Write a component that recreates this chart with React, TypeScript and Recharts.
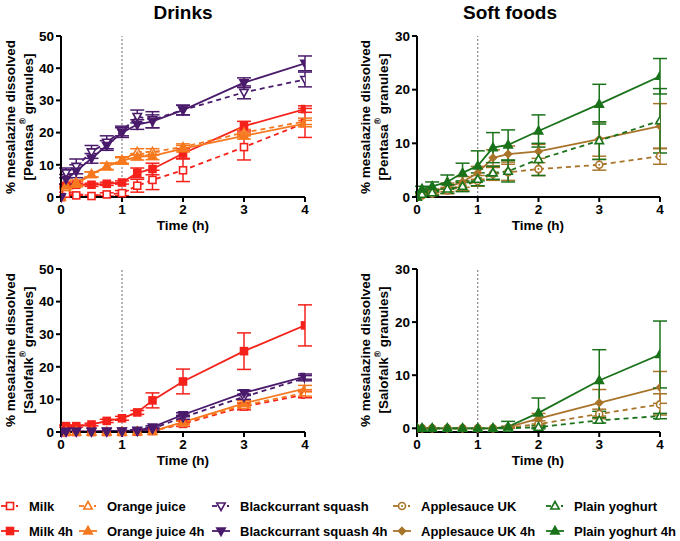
import React from 'react';
import { LineChart, Line, XAxis, YAxis, ErrorBar, ReferenceLine } from 'recharts';

// sampling times (h)
const times = [0, 0.083, 0.25, 0.5, 0.75, 1, 1.25, 1.5, 2, 3, 4];

// Pentasa - drinks
const milkP = [0, 1, 0.5, 0.3, 0.8, 1.2, 3.5, 5.3, 8.3, 15.5, 23];
const milkPErr = [0, 0.5, 0.3, 0.3, 0.5, 0.8, 2, 3, 3.5, 4, 4.5];
const milk4hP = [0, 3.5, 3.8, 3.8, 4.1, 4.5, 7.5, 8.7, 13.5, 22, 27.3];
const milk4hPErr = [0, 0.5, 0.5, 0.5, 0.5, 0.5, 1.5, 1.8, 1.5, 1.5, 1];
const ojP = [0, 3, 4.5, 7, 9.5, 11.5, 14, 14, 15.5, 20, 23.5];
const ojPErr = [0, 0.5, 0.8, 0.8, 1, 1, 1, 1, 1, 1, 1];
const oj4hP = [0, 3.5, 4, 7, 9.5, 11.2, 12.5, 12.8, 15, 19, 22.8];
const oj4hPErr = [0, 0.5, 0.8, 0.8, 1, 1, 1, 1.2, 1, 1, 1];
const bcP = [0, 7.5, 9.5, 14, 17, 20.5, 25, 24, 27, 32.5, 36.5];
const bcPErr = [0, 1.5, 2.3, 2, 2, 1.5, 2, 2.5, 1.5, 2, 2.3];
const bc4hP = [0, 5.5, 8, 12, 16, 20, 22.5, 23.5, 27, 35.5, 41.5];
const bc4hPErr = [0, 1.5, 2, 1.5, 1.5, 1.5, 1.5, 2, 1.5, 1.5, 2.3];

// Pentasa - soft foods
const appleP = [0, 0.3, 0.6, 1.2, 2, 3, 4.3, 4.6, 5.2, 6, 7.6];
const applePErr = [0, 0.3, 0.4, 0.6, 0.8, 1, 1.2, 1.5, 1.2, 1, 1.5];
const apple4hP = [0, 0.5, 1, 1.8, 2.8, 4.5, 7.3, 8, 8.5, 10.8, 13.2];
const apple4hPErr = [0, 0.3, 0.5, 0.8, 1, 1.2, 1.5, 1.5, 1.3, 3.2, 4.2];
const yogP = [0, 0.5, 0.8, 1.5, 2, 3.3, 4.5, 4.8, 7, 10.5, 14.2];
const yogPErr = [0, 0.3, 0.5, 0.8, 1, 1.2, 1.2, 2, 3, 3.5, 6];
const yog4hP = [0, 1.5, 2, 2.8, 4.5, 5.8, 9.2, 9.7, 12.3, 17.3, 22.5];
const yog4hPErr = [0, 0.5, 0.8, 1.3, 1.8, 2.8, 2.8, 2.8, 3, 3.7, 3.3];

// Salofalk - drinks
const milkS = [0, 0, 0, 0, 0, 0, 0.1, 0.3, 2.5, 7.8, 11.5];
const milkSErr = [0, 0, 0, 0, 0, 0, 0.1, 0.3, 0.8, 1, 1];
const milk4hS = [0, 1.8, 1.8, 2.3, 3.4, 4.2, 6, 9.7, 15.5, 24.8, 32.7];
const milk4hSErr = [0, 0.3, 0.3, 0.4, 0.5, 0.6, 0.6, 2.3, 3.8, 5.6, 6.3];
const ojS = [0, 0, 0, 0, 0, 0, 0.1, 0.2, 2.8, 8.2, 12];
const ojSErr = [0, 0, 0, 0, 0, 0, 0.1, 0.2, 0.5, 0.8, 1];
const oj4hS = [0, 0, 0, 0, 0, 0, 0.2, 0.3, 3, 8.8, 13.3];
const oj4hSErr = [0, 0, 0, 0, 0, 0, 0.1, 0.2, 0.5, 0.8, 1];
const bcS = [0, 0.1, 0.1, 0.1, 0.1, 0.2, 0.3, 1, 4.5, 10.8, 16.5];
const bcSErr = [0, 0, 0, 0, 0, 0.1, 0.2, 0.4, 0.6, 0.8, 0.8];
const bc4hS = [0, 0.2, 0.2, 0.2, 0.3, 0.3, 0.5, 1.5, 5.3, 12, 17];
const bc4hSErr = [0, 0, 0, 0, 0, 0.1, 0.2, 0.4, 0.6, 0.8, 0.8];

// Salofalk - soft foods
const appleS = [0, 0, 0, 0, 0, 0, 0, 0.1, 0.8, 2.7, 4.5];
const appleSErr = [0, 0, 0, 0, 0, 0, 0, 0.1, 0.6, 0.9, 2];
const apple4hS = [0, 0, 0, 0, 0, 0, 0, 0.2, 1.8, 4.8, 7.7];
const apple4hSErr = [0, 0, 0, 0, 0, 0, 0, 0.2, 1, 2.5, 3];
const yogS = [0, 0, 0, 0, 0, 0, 0, 0, 0.2, 1.5, 2.3];
const yogSErr = [0, 0, 0, 0, 0, 0, 0, 0, 0.3, 0.5, 0.5];
const yog4hS = [0, 0, 0, 0, 0, 0, 0, 0.3, 2.9, 9, 13.9];
const yog4hSErr = [0, 0, 0, 0, 0, 0, 0, 1, 2.8, 5.8, 6.3];

const RED = '#f5221b';
const ORANGE = '#f7791f';
const PURPLE = '#4a1a6b';
const BROWN = '#a8742a';
const GREEN = '#1a721a';
const FONT = '"Liberation Sans", Arial, sans-serif';

type Shape = 'square' | 'up' | 'down' | 'circle';
interface Series { key: string; name: string; color: string; dashed: boolean; shape: Shape; filled: boolean; }

const drinkSeries: Series[] = [
  { key: 'milk', name: 'Milk', color: RED, dashed: true, shape: 'square', filled: false },
  { key: 'milk4h', name: 'Milk 4h', color: RED, dashed: false, shape: 'square', filled: true },
  { key: 'oj', name: 'Orange juice', color: ORANGE, dashed: true, shape: 'up', filled: false },
  { key: 'oj4h', name: 'Orange juice 4h', color: ORANGE, dashed: false, shape: 'up', filled: true },
  { key: 'bc', name: 'Blackcurrant squash', color: PURPLE, dashed: true, shape: 'down', filled: false },
  { key: 'bc4h', name: 'Blackcurrant squash 4h', color: PURPLE, dashed: false, shape: 'down', filled: true },
];
const softSeries: Series[] = [
  { key: 'apple', name: 'Applesauce UK', color: BROWN, dashed: true, shape: 'circle', filled: false },
  { key: 'apple4h', name: 'Applesauce UK 4h', color: BROWN, dashed: false, shape: 'circle', filled: true },
  { key: 'yog', name: 'Plain yoghurt', color: GREEN, dashed: true, shape: 'up', filled: false },
  { key: 'yog4h', name: 'Plain yoghurt 4h', color: GREEN, dashed: false, shape: 'up', filled: true },
];

const buildRows = (cols: Record<string, number[]>) =>
  times.map((t, i) => {
    const row: Record<string, number> = { t };
    Object.keys(cols).forEach((k) => { row[k] = cols[k][i]; });
    return row;
  });

const pentasaDrinks = buildRows({
  milk: milkP, milkErr: milkPErr, milk4h: milk4hP, milk4hErr: milk4hPErr,
  oj: ojP, ojErr: ojPErr, oj4h: oj4hP, oj4hErr: oj4hPErr,
  bc: bcP, bcErr: bcPErr, bc4h: bc4hP, bc4hErr: bc4hPErr,
});
const pentasaSoft = buildRows({
  apple: appleP, appleErr: applePErr, apple4h: apple4hP, apple4hErr: apple4hPErr,
  yog: yogP, yogErr: yogPErr, yog4h: yog4hP, yog4hErr: yog4hPErr,
});
const salofalkDrinks = buildRows({
  milk: milkS, milkErr: milkSErr, milk4h: milk4hS, milk4hErr: milk4hSErr,
  oj: ojS, ojErr: ojSErr, oj4h: oj4hS, oj4hErr: oj4hSErr,
  bc: bcS, bcErr: bcSErr, bc4h: bc4hS, bc4hErr: bc4hSErr,
});
const salofalkSoft = buildRows({
  apple: appleS, appleErr: appleSErr, apple4h: apple4hS, apple4hErr: apple4hSErr,
  yog: yogS, yogErr: yogSErr, yog4h: yog4hS, yog4hErr: yog4hSErr,
});

const Marker = ({ cx, cy, s }: { cx: number; cy: number; s: Series }) => {
  const fill = s.filled ? s.color : '#fff';
  const sw = 1.6;
  if (s.shape === 'square') {
    return <rect x={cx - 3.5} y={cy - 3.5} width={7} height={7} fill={fill} stroke={s.color} strokeWidth={sw} />;
  }
  if (s.shape === 'up') {
    return <polygon points={`${cx},${cy - 4.5} ${cx + 4.2},${cy + 3} ${cx - 4.2},${cy + 3}`} fill={fill} stroke={s.color} strokeWidth={sw} />;
  }
  if (s.shape === 'down') {
    return <polygon points={`${cx},${cy + 4.5} ${cx + 4.2},${cy - 3} ${cx - 4.2},${cy - 3}`} fill={fill} stroke={s.color} strokeWidth={sw} />;
  }
  if (s.filled) {
    return <polygon points={`${cx},${cy - 3.5} ${cx + 3.5},${cy} ${cx},${cy + 3.5} ${cx - 3.5},${cy}`} fill={fill} stroke={s.color} strokeWidth={sw} />;
  }
  return (
    <g>
      <circle cx={cx} cy={cy} r={3.5} fill="#fff" stroke={s.color} strokeWidth={sw} />
      <circle cx={cx} cy={cy} r={1} fill={s.color} />
    </g>
  );
};

interface PanelProps {
  rows: Record<string, number>[];
  series: Series[];
  yMax: number;
  yTicks: number[];
  left: number;
  top: number;
  margin: { top: number; right: number; bottom: number; left: number };
}

const tickStyle = { fontSize: 13.5, fontWeight: 'bold' as const, fill: '#000', fontFamily: FONT };

const Panel = ({ rows, series, yMax, yTicks, left, top, margin }: PanelProps) => (
  <div style={{ position: 'absolute', left, top }}>
    <LineChart width={340} height={240} data={rows} margin={margin}>
      <XAxis
        dataKey="t"
        type="number"
        domain={[0, 4]}
        ticks={[0, 1, 2, 3, 4]}
        height={25}
        tick={tickStyle}
        axisLine={{ stroke: '#000', strokeWidth: 2 }}
        tickLine={{ stroke: '#000', strokeWidth: 2 }}
        tickSize={5}
        allowDataOverflow
      />
      <YAxis
        type="number"
        domain={[0, yMax]}
        ticks={yTicks}
        width={25}
        tick={tickStyle}
        axisLine={{ stroke: '#000', strokeWidth: 2 }}
        tickLine={{ stroke: '#000', strokeWidth: 2 }}
        tickSize={5}
        interval={0}
      />
      <ReferenceLine x={1} stroke="#444" strokeWidth={0.8} strokeDasharray="2 2" />
      {series.map((s) => (
        <Line
          key={s.key}
          dataKey={s.key}
          name={s.name}
          stroke={s.color}
          strokeWidth={1.8}
          strokeDasharray={s.dashed ? '5 4' : undefined}
          isAnimationActive={false}
          activeDot={false}
          dot={(p: any) => <Marker key={`${s.key}-${p.index}`} cx={p.cx} cy={p.cy} s={s} />}
        >
          <ErrorBar dataKey={`${s.key}Err`} width={7} strokeWidth={1.5} stroke={s.color} direction="y" isAnimationActive={false} />
        </Line>
      ))}
    </LineChart>
  </div>
);

const YLabel = ({ x, y, brand }: { x: number; y: number; brand: string }) => (
  <g>
    <text transform={`translate(${x},${y}) rotate(-90)`} textAnchor="middle" dominantBaseline="central" fontSize={13.5} fontWeight="bold">
      % mesalazine dissolved
    </text>
    <text transform={`translate(${x + 18},${y}) rotate(-90)`} textAnchor="middle" dominantBaseline="central" fontSize={13.5} fontWeight="bold">
      [{brand}
      <tspan fontSize={8.5} dy={-5}>®</tspan>
      <tspan dy={5}> granules]</tspan>
    </text>
  </g>
);

const legendItems: { s: Series; x: number; row: number }[] = [
  { s: drinkSeries[0], x: 10, row: 0 },
  { s: drinkSeries[1], x: 10, row: 1 },
  { s: drinkSeries[2], x: 88, row: 0 },
  { s: drinkSeries[3], x: 88, row: 1 },
  { s: drinkSeries[4], x: 221, row: 0 },
  { s: drinkSeries[5], x: 221, row: 1 },
  { s: softSeries[0], x: 402, row: 0 },
  { s: softSeries[1], x: 402, row: 1 },
  { s: softSeries[2], x: 555, row: 0 },
  { s: softSeries[3], x: 555, row: 1 },
];

const Overlay = () => (
  <svg width={680} height={541} style={{ position: 'absolute', left: 0, top: 0, pointerEvents: 'none' }} fontFamily={FONT}>
    <text x={183} y={19} textAnchor="middle" fontSize={19} fontWeight="bold">Drinks</text>
    <text x={510} y={19} textAnchor="middle" fontSize={19} fontWeight="bold">Soft foods</text>
    <YLabel x={10} y={117} brand="Pentasa" />
    <YLabel x={365} y={117} brand="Pentasa" />
    <YLabel x={10} y={350} brand="Salofalk" />
    <YLabel x={365} y={350} brand="Salofalk" />
    <text x={183} y={230} textAnchor="middle" fontSize={13.5} fontWeight="bold">Time (h)</text>
    <text x={538} y={230} textAnchor="middle" fontSize={13.5} fontWeight="bold">Time (h)</text>
    <text x={183} y={465} textAnchor="middle" fontSize={13.5} fontWeight="bold">Time (h)</text>
    <text x={538} y={465} textAnchor="middle" fontSize={13.5} fontWeight="bold">Time (h)</text>
    {legendItems.map(({ s, x, row }) => {
      const y = row === 0 ? 506 : 531;
      return (
        <g key={s.key}>
          {s.dashed ? (
            <g>
              <line x1={x - 9} y1={y} x2={x - 4} y2={y} stroke={s.color} strokeWidth={1.8} />
              <line x1={x + 6} y1={y} x2={x + 8} y2={y} stroke={s.color} strokeWidth={1.8} />
            </g>
          ) : (
            <line x1={x - 9} y1={y} x2={x + 9} y2={y} stroke={s.color} strokeWidth={1.8} />
          )}
          <Marker cx={x} cy={y} s={s} />
          <text x={x + 19} y={y} dominantBaseline="central" fontSize={13} fontWeight="bold">{s.name}</text>
        </g>
      );
    })}
  </svg>
);

export default function App() {
  return (
    <div style={{ position: 'absolute', left: 0, top: 0, width: 680, height: 541, background: '#fff', fontFamily: FONT }}>
      <Panel rows={pentasaDrinks} series={drinkSeries} yMax={50} yTicks={[0, 10, 20, 30, 40, 50]} left={0} top={0}
        margin={{ top: 36, right: 35, bottom: 18, left: 36 }} />
      <Panel rows={pentasaSoft} series={softSeries} yMax={30} yTicks={[0, 10, 20, 30]} left={340} top={0}
        margin={{ top: 36, right: 20, bottom: 18, left: 52 }} />
      <Panel rows={salofalkDrinks} series={drinkSeries} yMax={50} yTicks={[0, 10, 20, 30, 40, 50]} left={0} top={240}
        margin={{ top: 29, right: 35, bottom: 23, left: 36 }} />
      <Panel rows={salofalkSoft} series={softSeries} yMax={30} yTicks={[0, 10, 20, 30]} left={340} top={240}
        margin={{ top: 29, right: 20, bottom: 23, left: 52 }} />
      <Overlay />
    </div>
  );
}
